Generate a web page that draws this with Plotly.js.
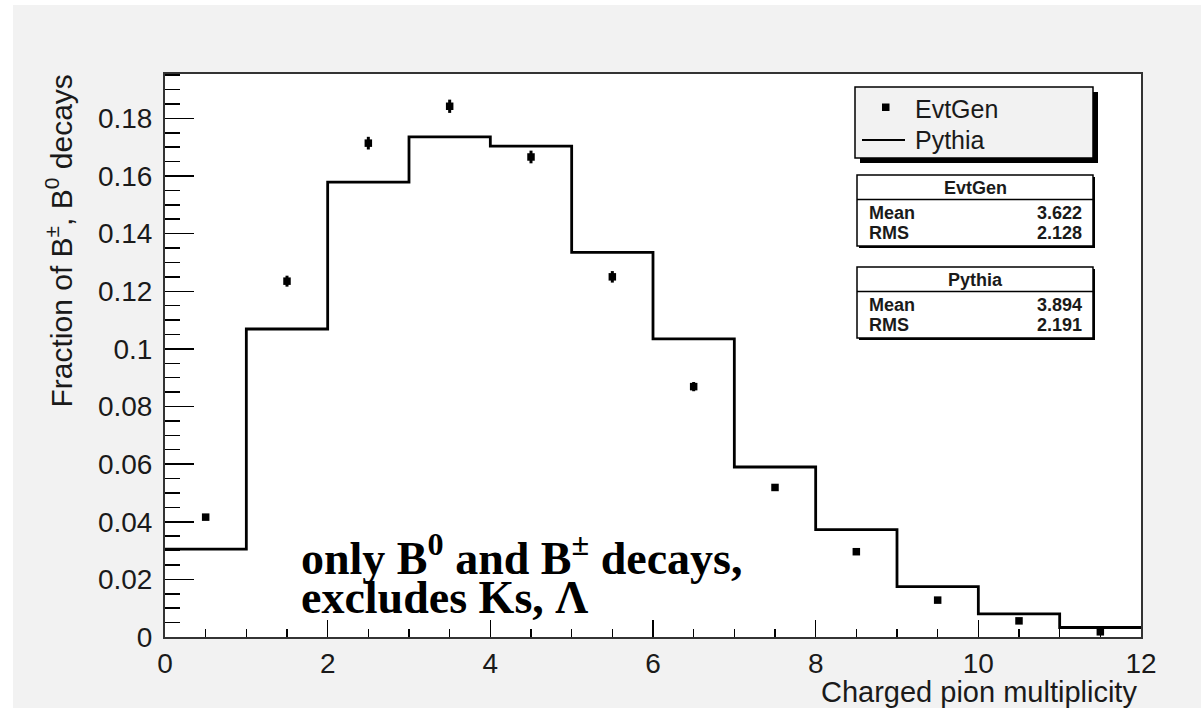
<!DOCTYPE html>
<html>
<head>
<meta charset="utf-8">
<script src="https://cdn.plot.ly/plotly-3.0.1.min.js"></script>
<style>
  html, body { margin: 0; padding: 0; background: #ffffff; width: 1201px; height: 708px; overflow: hidden; }
  #chart { position: absolute; left: 13px; top: 5px; width: 1188px; height: 703px; }
</style>
</head>
<body>
<div id="chart"></div>
<script>
// ---- Data ----
const binCenters = [0.5, 1.5, 2.5, 3.5, 4.5, 5.5, 6.5, 7.5, 8.5, 9.5, 10.5, 11.5];
const evtgenValues = [0.0416, 0.1235, 0.1714, 0.1842, 0.1666, 0.1250, 0.0869, 0.0519, 0.0296, 0.0128, 0.0056, 0.0018];
const evtgenErrors = [0.0010, 0.0019, 0.0022, 0.0023, 0.0022, 0.0020, 0.0016, 0.0012, 0.0009, 0.0006, 0.0004, 0.0002];
const binEdges = [0, 1, 2, 3, 4, 5, 6, 7, 8, 9, 10, 11, 12];
const pythiaValues = [0.0305, 0.1069, 0.1579, 0.1736, 0.1704, 0.1335, 0.1035, 0.0590, 0.0373, 0.0175, 0.0080, 0.0033];
const yTickValues = [0, 0.02, 0.04, 0.06, 0.08, 0.1, 0.12, 0.14, 0.16, 0.18];
const yTickLabels = ["0", "0.02", "0.04", "0.06", "0.08", "0.1", "0.12", "0.14", "0.16", "0.18"];
const xTickValues = [0, 2, 4, 6, 8, 10, 12];
const xTickLabels = ["0", "2", "4", "6", "8", "10", "12"];
const statsEvtGen = {name: "EvtGen", mean: "3.622", rms: "2.128"};
const statsPythia = {name: "Pythia", mean: "3.894", rms: "2.191"};
const xTitle = "Charged pion multiplicity";
const yTitle = "Fraction of B<sup>±</sup>, B<sup>0</sup> decays";
const noteLine1 = "only B<sup>0</sup> and B<sup>±</sup> decays,";
const noteLine2 = "excludes Ks, Λ";

// ---- Layout helpers (page pixel -> paper coords) ----
const PL = 165, PR = 1141, PT = 74, PB = 637;
const px = x => (x - PL) / (PR - PL);
const py = y => (PB - y) / (PB - PT);

const SANS = "Liberation Sans, Arial, Helvetica, sans-serif";
const SERIF = "Liberation Serif, Times New Roman, serif";
const INK = "#1a1a1a";

const pythiaLineY = pythiaValues.concat([pythiaValues[pythiaValues.length - 1]]);

const traces = [
  {
    type: "scatter", mode: "lines", name: "Pythia",
    x: binEdges, y: pythiaLineY,
    line: {shape: "hv", color: "#000000", width: 2.8},
    showlegend: false
  },
  {
    type: "scatter", mode: "markers", name: "EvtGen",
    x: binCenters, y: evtgenValues,
    error_y: {type: "data", array: evtgenErrors, visible: true, color: "#000000", thickness: 3, width: 0},
    marker: {symbol: "square", size: 7.5, color: "#000000"},
    showlegend: false
  }
];

const shapes = [];
const annotations = [];

function box(x0, y0, x1, y1, fill, shadow) {
  shapes.push({type: "rect", xref: "paper", yref: "paper",
    x0: px(x0 + shadow), x1: px(x1 + shadow), y0: py(y0 + shadow), y1: py(y1 + shadow),
    fillcolor: "#000000", line: {width: 0}});
  shapes.push({type: "rect", xref: "paper", yref: "paper",
    x0: px(x0), x1: px(x1), y0: py(y0), y1: py(y1),
    fillcolor: fill, line: {color: "#000000", width: 1.5}});
}
function hline(x0, x1, y, w) {
  shapes.push({type: "line", xref: "paper", yref: "paper",
    x0: px(x0), x1: px(x1), y0: py(y), y1: py(y), line: {color: "#000000", width: w}});
}
function text(t, x, y, xanchor, font) {
  annotations.push({xref: "paper", yref: "paper", x: px(x), y: py(y), text: t,
    xanchor: xanchor, yanchor: "middle", showarrow: false, font: font});
}

// Legend box
box(855, 87, 1093, 158, "#f2f2f2", 5);
shapes.push({type: "rect", xref: "paper", yref: "paper",
  x0: px(882), x1: px(889.5), y0: py(103.5), y1: py(111), fillcolor: "#000000", line: {width: 0}});
hline(862, 905, 140, 2);
text(statsEvtGen.name, 913, 109, "left", {family: SANS, size: 25, color: INK});
text(statsPythia.name, 913, 140, "left", {family: SANS, size: 25, color: INK});

// Stats boxes
function statsBox(s, top) {
  box(857, top, 1093, top + 71, "#ffffff", 2);
  hline(857, 1093, top + 24.5, 1.5);
  const bf = {family: SANS, size: 18, color: INK, weight: "bold"};
  text("<b>" + s.name + "</b>", 975, top + 13, "center", bf);
  text("<b>Mean</b>", 867, top + 38, "left", bf);
  text("<b>" + s.mean + "</b>", 1084, top + 38, "right", bf);
  text("<b>RMS</b>", 867, top + 58, "left", bf);
  text("<b>" + s.rms + "</b>", 1084, top + 58, "right", bf);
}
statsBox(statsEvtGen, 175);
statsBox(statsPythia, 267);

// Note text: one two-line block; the small base size sets the tight line spacing
const noteSpan = t => "<span style='font-size:46px'><b>" + t + "</b></span>";
annotations.push({xref: "paper", yref: "paper", x: px(299), y: py(574),
  text: noteSpan(noteLine1) + "<br>" + noteSpan(noteLine2),
  xanchor: "left", yanchor: "middle", align: "left", showarrow: false,
  font: {family: SERIF, size: 30, color: "#000000"}});

// Axis titles
annotations.push({xref: "paper", yref: "paper", x: px(59), y: py(73), text: yTitle,
  textangle: -90, xanchor: "center", yanchor: "top", showarrow: false,
  font: {family: SANS, size: 30, color: INK}});
annotations.push({xref: "paper", yref: "paper", x: px(1139), y: py(692), text: xTitle,
  xanchor: "right", yanchor: "middle", showarrow: false,
  font: {family: SANS, size: 29, color: INK}});

const layout = {
  width: 1188, height: 703,
  margin: {l: PL - 13, r: 1201 - PR, t: PT - 5, b: 708 - PB, pad: 0},
  paper_bgcolor: "#f2f2f2",
  plot_bgcolor: "#ffffff",
  showlegend: false,
  xaxis: {
    range: [0, 12], tickmode: "array", tickvals: xTickValues, ticktext: xTickLabels,
    ticks: "inside", ticklen: 17, tickwidth: 1.5, tickcolor: "#000000",
    minor: {dtick: 0.5, tick0: 0, ticks: "inside", ticklen: 8, tickwidth: 1.5, tickcolor: "#000000", showgrid: false},
    showline: true, linecolor: "#333333", linewidth: 2, mirror: true,
    showgrid: false, zeroline: false, fixedrange: true,
    tickfont: {family: SANS, size: 28, color: INK}, ticklabelstandoff: 0
  },
  yaxis: {
    range: [0, 0.1954], tickmode: "array", tickvals: yTickValues, ticktext: yTickLabels,
    ticks: "inside", ticklen: 29, tickwidth: 1.5, tickcolor: "#000000",
    minor: {dtick: 0.005, tick0: 0, ticks: "inside", ticklen: 15, tickwidth: 1.5, tickcolor: "#000000", showgrid: false},
    showline: true, linecolor: "#333333", linewidth: 2, mirror: true,
    showgrid: false, zeroline: false, fixedrange: true,
    tickfont: {family: SANS, size: 28, color: INK}, ticklabelstandoff: 5
  },
  shapes: shapes,
  annotations: annotations
};

Plotly.newPlot("chart", traces, layout, {displayModeBar: false, staticPlot: true});
</script>
</body>
</html>
